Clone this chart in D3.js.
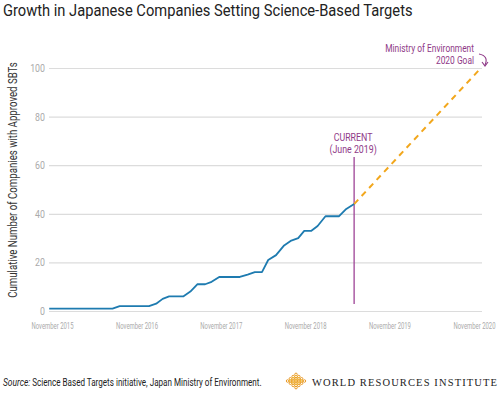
<!DOCTYPE html>
<html>
<head>
<meta charset="utf-8">
<script src="https://cdn.jsdelivr.net/npm/d3@7"></script>
<style>
  body { margin: 0; background: #fff; }
  svg { display: block; font-family: Roboto, "Liberation Sans", sans-serif; }
</style>
</head>
<body>
<div id="chart"></div>
<script>
// cumulative companies with approved SBTs
var dates = ["2015-10-20", "2016-07-20", "2016-08-20", "2016-12-25", "2017-01-25", "2017-02-22",
  "2017-03-22", "2017-05-22", "2017-06-22", "2017-07-22", "2017-08-25", "2017-09-22",
  "2017-10-25", "2018-01-22", "2018-02-25", "2018-03-28", "2018-04-28", "2018-05-25",
  "2018-06-28", "2018-08-02", "2018-09-02", "2018-10-02", "2018-10-28", "2018-11-28",
  "2018-12-25", "2019-01-28", "2019-03-28", "2019-04-28", "2019-06-01"];
var companies = [1, 1, 2, 2, 3, 5, 6, 6, 8, 11, 11, 12, 14, 14, 15, 16, 16, 21, 23, 27, 29, 30,
  33, 33, 35, 39, 39, 42, 44];

// projection to the 2020 goal
var goalDates = ["2019-06-01", "2020-12-01"];
var goalValues = [44, 100];

var currentDate = "2019-06-01";
var yTicks = [0, 20, 40, 60, 80, 100];
var xTicks = ["2015-11-01", "2016-11-01", "2017-11-01", "2018-11-01", "2019-11-01", "2020-11-01"];

var width = 500, height = 394;
var parse = d3.timeParse("%Y-%m-%d");

var svg = d3.select("#chart").append("svg")
  .attr("width", width)
  .attr("height", height);

// squeeze text horizontally so it looks like a condensed face
function squeeze(sel, f) {
  sel.each(function() {
    var t = d3.select(this);
    var x = +t.attr("x") || 0;
    var tr = t.attr("transform") || "";
    t.attr("x", x / f).attr("transform", tr + " scale(" + f + ",1)");
  });
}

// squeeze a text to a given width
function fitWidth(sel, w) {
  var f = w / sel.node().getComputedTextLength();
  squeeze(sel, f);
  return f;
}

var xScale = d3.scaleTime()
  .domain([parse(xTicks[0]), parse(xTicks[5])])
  .range([52, 474]);

var yScale = d3.scaleLinear()
  .domain([0, 100])
  .range([311, 68]);

// title
var title = svg.append("text")
  .attr("x", 3)
  .attr("y", 16)
  .attr("font-size", 17)
  .attr("fill", "#222")
  .text("Growth in Japanese Companies Setting Science-Based Targets");
fitWidth(title, 410);

// gridlines
svg.append("g")
  .attr("class", "y grid")
  .attr("transform", "translate(482,0)")
  .call(d3.axisLeft(yScale).tickValues(yTicks).tickSize(482 - 49).tickFormat(""))
  .call(function(g) { g.select(".domain").remove(); })
  .selectAll("line")
  .attr("stroke", "#dcdcdc")
  .attr("stroke-width", 1.2);

// y tick labels
var yAxis = svg.append("g")
  .attr("class", "y axis")
  .attr("transform", "translate(49,0)")
  .call(d3.axisLeft(yScale).tickValues(yTicks).tickSize(0).tickPadding(4));
yAxis.select(".domain").remove();
yAxis.selectAll("text")
  .attr("font-size", 11)
  .attr("font-family", "Roboto, sans-serif")
  .attr("fill", "#aaa");
squeeze(yAxis.selectAll("text"), 0.8);

// x tick labels
var xAxis = svg.append("g")
  .attr("class", "x axis")
  .attr("transform", "translate(0,311)")
  .call(d3.axisBottom(xScale).tickValues(xTicks.map(parse)).tickSize(0).tickPadding(12)
    .tickFormat(d3.timeFormat("%B %Y")));
xAxis.select(".domain").remove();
xAxis.selectAll("text")
  .attr("font-size", 8.3)
  .attr("font-family", "Roboto, sans-serif")
  .attr("fill", "#aaa")
  .each(function() { fitWidth(d3.select(this), 42); });

// y axis title
var yTitle = svg.append("text")
  .attr("transform", "translate(17,180) rotate(-90)")
  .attr("text-anchor", "middle")
  .attr("font-size", 12.5)
  .attr("fill", "#333")
  .text("Cumulative Number of Companies with Approved SBTs");
fitWidth(yTitle, 236);

// current marker
svg.append("line")
  .attr("x1", xScale(parse(currentDate)))
  .attr("x2", xScale(parse(currentDate)))
  .attr("y1", 157)
  .attr("y2", 304)
  .attr("stroke", "#9e4396")
  .attr("stroke-width", 1.3);

var cur = svg.append("g").attr("fill", "#8f3a88").attr("font-size", 11).attr("text-anchor", "middle");
cur.append("text").attr("x", xScale(parse(currentDate)) - 1).attr("y", 141).text("CURRENT");
cur.append("text").attr("x", xScale(parse(currentDate)) - 1).attr("y", 153).text("(June 2019)");
squeeze(cur.selectAll("text"), 0.8);

// goal projection
var goal = goalDates.map(function(d, i) { return { date: parse(d), value: goalValues[i] }; });
var line = d3.line()
  .x(function(d) { return xScale(d.date); })
  .y(function(d) { return yScale(d.value); });

svg.append("path")
  .datum(goal)
  .attr("d", line)
  .attr("fill", "none")
  .attr("stroke", "#f2a71c")
  .attr("stroke-width", 2)
  .attr("stroke-dasharray", "6,5");

// actual companies
var actual = dates.map(function(d, i) { return { date: parse(d), value: companies[i] }; });
svg.append("path")
  .datum(actual)
  .attr("d", line)
  .attr("fill", "none")
  .attr("stroke", "#1e7bb0")
  .attr("stroke-width", 1.8)
  .attr("stroke-linejoin", "round");

// goal annotation
var ga = svg.append("g").attr("fill", "#8f3a88").attr("font-size", 10.5).attr("text-anchor", "end");
ga.append("text").attr("x", 474).attr("y", 52).text("Ministry of Environment");
ga.append("text").attr("x", 474).attr("y", 64).text("2020 Goal");
squeeze(ga.selectAll("text"), 0.8);

svg.append("path")
  .attr("d", "M479,54 Q489,56 485,65")
  .attr("fill", "none")
  .attr("stroke", "#8f3a88")
  .attr("stroke-width", 1.1);
svg.append("path")
  .attr("d", "M482,62 L485,66 L488,62")
  .attr("fill", "none")
  .attr("stroke", "#8f3a88")
  .attr("stroke-width", 1.1);

// source line, two pieces so the italic part keeps its own style
var srcA = svg.append("text")
  .attr("x", 3)
  .attr("y", 386)
  .attr("font-size", 10.5)
  .attr("font-style", "italic")
  .attr("fill", "#222")
  .text("Source:");
var srcAw = srcA.node().getComputedTextLength() * 0.8;
squeeze(srcA, 0.8);
var srcB = svg.append("text")
  .attr("x", 5 + srcAw)
  .attr("y", 386)
  .attr("font-size", 10.5)
  .attr("fill", "#222")
  .text("Science Based Targets initiative, Japan Ministry of Environment.");
fitWidth(srcB, 257 - srcAw);

// WRI logo mark
var logo = svg.append("g").attr("transform", "translate(296,381)");
var cells = [];
for (var r = -3; r <= 3; r++) {
  for (var c = -3; c <= 3; c++) {
    if (Math.abs(r) + Math.abs(c) <= 3) cells.push([c, r]);
  }
}
logo.selectAll("circle")
  .data(cells)
  .enter()
  .append("circle")
  .attr("cx", function(d) { return d[0] * 2.8; })
  .attr("cy", function(d) { return d[1] * 2.2; })
  .attr("r", 1.3)
  .attr("fill", "none")
  .attr("stroke", function(d) { return (d[0] + d[1]) % 2 === 0 ? "#f3b52c" : "#e99a2a"; })
  .attr("stroke-width", 1);

// spread the institute name over its width with letter spacing
var wri = svg.append("text")
  .attr("x", 312)
  .attr("y", 386)
  .attr("font-family", "'Liberation Serif', 'DejaVu Serif', serif")
  .attr("font-size", 10.5)
  .attr("fill", "#222")
  .text("WORLD RESOURCES INSTITUTE");
var wriName = wri.text();
var wriNat = wri.node().getComputedTextLength();
wri.attr("letter-spacing", (185 - wriNat) / (wriName.length - 1));
</script>
</body>
</html>
